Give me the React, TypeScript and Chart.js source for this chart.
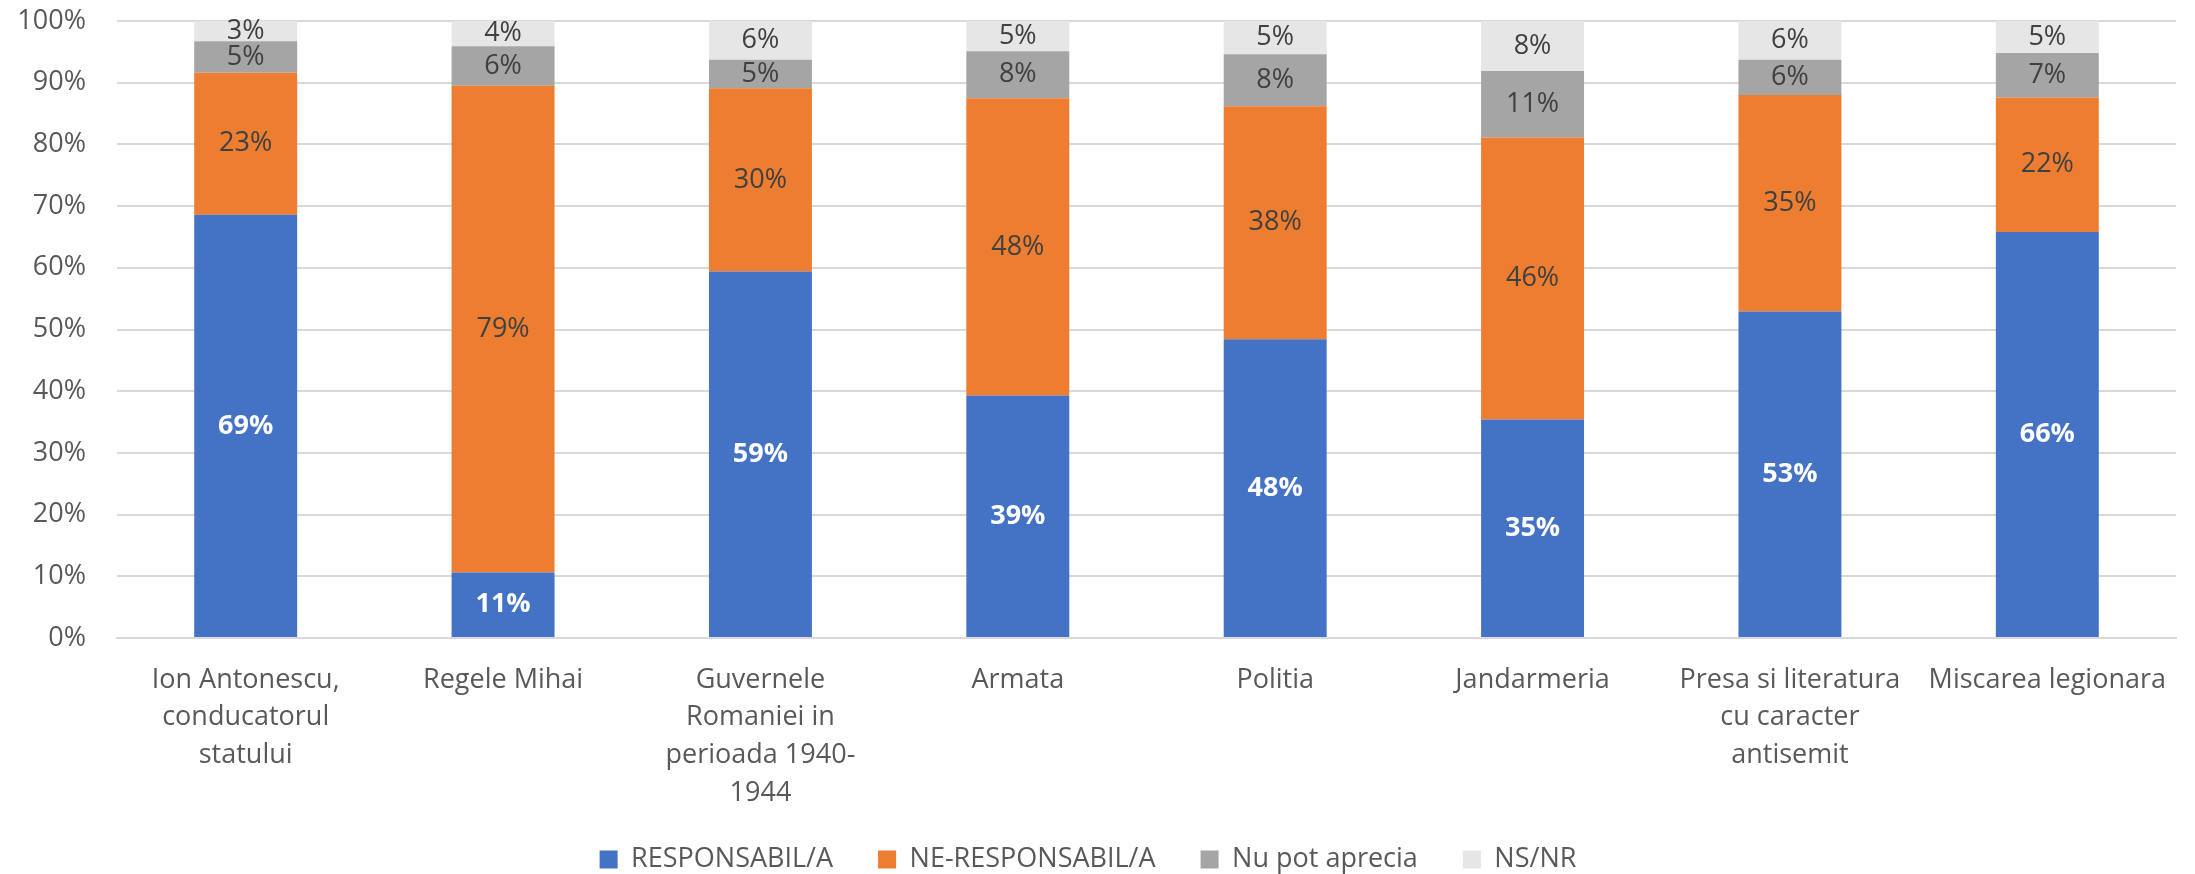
import React, { useEffect, useRef } from "react";
import { Chart, registerables } from "chart.js";

Chart.register(...registerables);

const categories: string[][] = [
  ["Ion Antonescu,", "conducatorul", "statului"],
  ["Regele Mihai"],
  ["Guvernele", "Romaniei in", "perioada 1940-", "1944"],
  ["Armata"],
  ["Politia"],
  ["Jandarmeria"],
  ["Presa si literatura", "cu caracter", "antisemit"],
  ["Miscarea legionara"],
];

const seriesNames = ["RESPONSABIL/A", "NE-RESPONSABIL/A", "Nu pot aprecia", "NS/NR"];

const responsabil = [68.6, 10.6, 59.4, 39.3, 48.4, 35.4, 52.9, 65.8];
const neResponsabil = [23.0, 78.9, 29.7, 48.2, 37.8, 45.7, 35.1, 21.8];
const nuPotAprecia = [5.1, 6.4, 4.6, 7.6, 8.4, 10.8, 5.7, 7.2];
const nsNr = [3.3, 4.1, 6.3, 4.9, 5.4, 8.1, 6.3, 5.2];

const yTicks = [0, 10, 20, 30, 40, 50, 60, 70, 80, 90, 100];

const colors = ["#4472C4", "#ED7D31", "#A5A5A5", "#E6E6E6"];
const FONT = "'Open Sans', 'Noto Sans', sans-serif";

const PLOT_TOP = 21;
const PLOT_BOTTOM = 638;
const LEGEND_CENTER = 859;
const LEGEND_PAD = 45;

const segLabels = {
  id: "segLabels",
  afterDatasetsDraw(chart: any) {
    const ctx = chart.ctx;
    chart.data.datasets.forEach((ds: any, i: number) => {
      const meta = chart.getDatasetMeta(i);
      meta.data.forEach((el: any, j: number) => {
        const v = ds.data[j];
        const p = el.getProps(["x", "y", "base"], true);
        ctx.save();
        ctx.textAlign = "center";
        ctx.textBaseline = "middle";
        if (i === 0) {
          ctx.font = `bold 27px ${FONT}`;
          ctx.fillStyle = "#FFFFFF";
        } else {
          ctx.font = `27px ${FONT}`;
          ctx.fillStyle = "#404040";
        }
        ctx.fillText(Math.round(v) + "%", p.x, (p.y + p.base) / 2);
        ctx.restore();
      });
    });
  },
};

const adjustLayout = {
  id: "adjustLayout",
  afterLayout(chart: any) {
    const lg = chart.legend;
    if (lg) {
      const h = lg.bottom - lg.top;
      lg.top = LEGEND_CENTER - LEGEND_PAD - 13;
      lg.bottom = lg.top + h;
    }
    const x = chart.scales.x;
    if (x) {
      x.bottom = chart.height;
    }
  },
};

export default function App() {
  const ref = useRef<HTMLCanvasElement>(null);
  useEffect(() => {
    if (!ref.current) return;
    const data = [responsabil, neResponsabil, nuPotAprecia, nsNr];
    const chart = new Chart(ref.current, {
      type: "bar",
      data: {
        labels: categories as any,
        datasets: data.map((d, i) => ({
          label: seriesNames[i],
          data: d,
          backgroundColor: colors[i],
          borderWidth: 0,
          categoryPercentage: 0.5,
          barPercentage: 0.8,
        })),
      },
      options: {
        responsive: false,
        animation: false,
        layout: { padding: { top: PLOT_TOP, left: 0, right: 19, bottom: 0 } },
        scales: {
          x: {
            stacked: true,
            grid: { display: false, drawTicks: false },
            border: { display: true, color: "#D9D9D9", width: 2 },
            ticks: {
              color: "#595959",
              font: { family: FONT, size: 27, lineHeight: 1.4 },
              padding: 23,
              maxRotation: 0,
              minRotation: 0,
              autoSkip: false,
            },
            afterFit: (s: any) => {
              const lh = s.chart.legend ? s.chart.legend.height : 0;
              s.height = s.chart.height - PLOT_BOTTOM - lh;
            },
          },
          y: {
            stacked: true,
            min: 0,
            max: 100,
            afterBuildTicks: (s: any) => {
              s.ticks = yTicks.map((v) => ({ value: v }));
            },
            grid: { color: "#D9D9D9", lineWidth: 2, drawTicks: false },
            border: { display: false },
            ticks: {
              color: "#595959",
              font: { family: FONT, size: 27 },
              padding: 31,
              callback: (v: any) => v + "%",
            },
            afterFit: (s: any) => {
              s.width = 117;
              s.paddingTop = 0;
              s.paddingBottom = 0;
            },
          },
        },
        plugins: {
          legend: {
            position: "bottom",
            labels: {
              color: "#595959",
              font: { family: FONT, size: 27 },
              boxWidth: 18,
              boxHeight: 18,
              padding: LEGEND_PAD,
            },
          },
          tooltip: { enabled: false },
        },
      },
      plugins: [segLabels, adjustLayout],
    });
    return () => chart.destroy();
  }, []);
  return (
    <div style={{ position: "fixed", left: 0, top: 0, width: 2195, height: 874, background: "#fff" }}>
      <canvas ref={ref} width={2195} height={874} style={{ display: "block", width: 2195, height: 874 }} />
    </div>
  );
}
